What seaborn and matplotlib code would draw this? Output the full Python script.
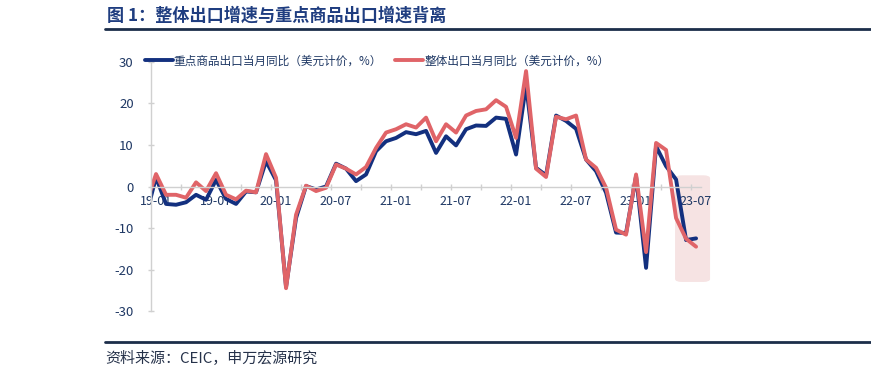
import numpy as np
import pandas as pd
import matplotlib
matplotlib.use("Agg")
import matplotlib.pyplot as plt
import seaborn as sns
from matplotlib.patches import FancyBboxPatch
from matplotlib.lines import Line2D
from matplotlib.ticker import FixedLocator

# 데이터: 2018-12 ~ 2023-07 (첫 점은 축 왼쪽에서 잘림)
months = [p.strftime("%y-%m") for p in pd.period_range("2018-12", "2023-07", freq="M")]
key_goods = [-7.0, 2.2, -4.2, -4.4, -3.8, -2.0, -3.2, 1.6, -3.0, -4.2, -1.2, -1.4,
             6.1, 1.5, -24.2, -7.6, 0.1, -0.7, 0.0, 5.5, 4.3, 1.3, 2.9, 8.5,
             10.9, 11.7, 13.1, 12.6, 13.4, 8.1, 12.1, 9.9, 13.8, 14.7, 14.6, 16.6,
             16.3, 7.7, 24.5, 4.5, 2.7, 17.1, 15.8, 13.9, 6.5, 3.7, -1.5, -11.1,
             -11.2, 2.5, -19.6, 9.7, 4.9, 1.7, -12.9, -12.5]
total_exports = [-4.0, 3.0, -2.0, -2.0, -2.7, 1.0, -1.1, 3.2, -2.0, -3.1, -1.0, -1.4,
                 7.8, 2.1, -24.5, -6.8, 0.2, -1.1, -0.3, 5.3, 4.3, 2.9, 4.7, 9.3,
                 13.0, 13.8, 15.0, 14.2, 16.6, 10.9, 15.0, 13.0, 17.1, 18.2, 18.6, 20.8,
                 19.2, 11.7, 27.8, 4.3, 2.3, 16.8, 16.2, 17.1, 6.5, 4.5, -0.3, -10.4,
                 -11.6, 2.9, -15.8, 10.5, 8.8, -7.6, -12.6, -14.5]
series_names = ["重点商品出口当月同比（美元计价，%）", "整体出口当月同比（美元计价，%）"]
tick_labels = ["19-01", "19-07", "20-01", "20-07", "21-01", "21-07", "22-01", "22-07", "23-01", "23-07"]
y_ticks = [-30, -20, -10, 0, 10, 20, 30]
highlight_x = (51.9, 55.4)   # 강조 구간 (월 인덱스 기준)
highlight_y = (-23.0, 2.7)

idx = np.arange(len(months)) - 1  # 19-01 = 0
df = pd.DataFrame({
    "idx": np.concatenate([idx, idx]),
    "value": key_goods + total_exports,
    "series": [series_names[0]] * len(idx) + [series_names[1]] * len(idx),
})

sns.set_theme(style="white")
plt.rcParams['font.family'] = ['Noto Sans CJK SC', 'DejaVu Sans']
plt.rcParams['axes.unicode_minus'] = False

navy = "#1f3864"
blue = "#13307f"
red = "#e06468"
gray = "#d0d0d0"

fig = plt.figure(figsize=(8.71, 3.71), dpi=100)
ax = fig.add_axes([0.1734, 0.1617, 0.6315, 0.6712])

sns.lineplot(data=df, x="idx", y="value", hue="series", hue_order=series_names,
             palette=[blue, red], linewidth=2.8, ax=ax, legend=True)

ax.set_xlim(-0.5, 54.5)
ax.set_ylim(-30, 30)
ax.set_xlabel("")
ax.set_ylabel("")

# 강조 박스
ax.figure.canvas.draw()
(x0, y0) = ax.transData.transform((highlight_x[0], highlight_y[0]))
(x1, y1) = ax.transData.transform((highlight_x[1], highlight_y[1]))
fx0, fy0 = fig.transFigure.inverted().transform((x0, y0))
fx1, fy1 = fig.transFigure.inverted().transform((x1, y1))
box = FancyBboxPatch((fx0, fy0), fx1 - fx0, fy1 - fy0,
                     boxstyle="round,pad=0,rounding_size=0.008",
                     transform=fig.transFigure, facecolor="#f6e3e3", edgecolor="none",
                     zorder=0.5)
fig.add_artist(box)
ax.set_zorder(2)
ax.patch.set_visible(False)

# 축 설정
for s in ["top", "right"]:
    ax.spines[s].set_visible(False)
ax.spines["bottom"].set_position(("data", 0))
ax.spines["bottom"].set_color(gray)
ax.spines["left"].set_color(gray)
ax.spines["bottom"].set_linewidth(1)
ax.spines["left"].set_linewidth(1)

ax.set_xticks(np.arange(0, 55, 6))
ax.set_xticklabels(tick_labels)
ax.xaxis.set_minor_locator(FixedLocator(np.arange(-0.5, 55, 3)))
ax.tick_params(axis="x", which="major", length=0, pad=6, labelsize=9, labelcolor=navy)
ax.tick_params(axis="x", which="minor", length=5, direction="inout", color=gray, width=1)
ax.set_yticks(y_ticks)
ax.tick_params(axis="y", which="major", length=5, direction="inout", color=gray, width=1,
               pad=10, labelsize=9.5, labelcolor=navy)
ax.tick_params(bottom=True, left=True, which="both")

leg = ax.legend(loc="center left", bbox_to_anchor=(-0.02, 1.005), ncol=2, frameon=False,
                handlelength=2.4, handletextpad=0.1, columnspacing=1.1, fontsize=8.4,
                borderaxespad=0)
for t in leg.get_texts():
    t.set_color(navy)
for h in leg.get_lines():
    h.set_linewidth(2.8)

# 제목, 출처
fig.text(0.123, 0.957, "图 1：整体出口增速与重点商品出口增速背离", fontsize=12.3,
         fontweight="bold", color="#1f3d80", va="center", ha="left")
fig.add_artist(Line2D([0.1206, 1.0], [0.922, 0.922], color="#1c2e4a", linewidth=2.0,
                      transform=fig.transFigure))
fig.add_artist(Line2D([0.1206, 1.0], [0.0795, 0.0795], color="#1c2e4a", linewidth=2.0,
                      transform=fig.transFigure))
fig.text(0.1206, 0.035, "资料来源：CEIC，申万宏源研究", fontsize=10.8, color="#26324a",
         va="center", ha="left")

fig.savefig("out.png", dpi=100)
